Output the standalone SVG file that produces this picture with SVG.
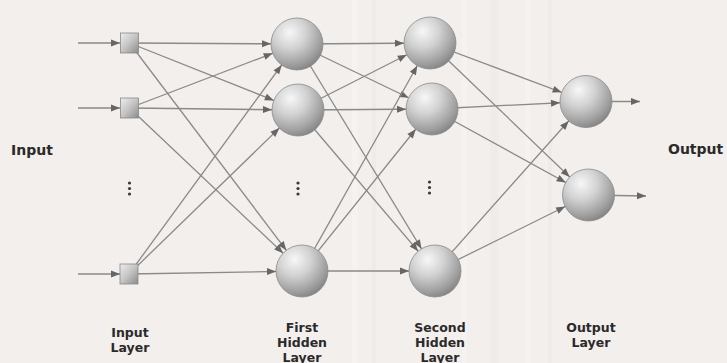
<svg xmlns="http://www.w3.org/2000/svg" width="727" height="363" viewBox="0 0 727 363">
  <defs>
    <radialGradient id="sphere" cx="0.36" cy="0.28" r="0.78">
      <stop offset="0" stop-color="#f7f7f7"/>
      <stop offset="0.4" stop-color="#d2d2d2"/>
      <stop offset="0.8" stop-color="#9e9e9e"/>
      <stop offset="1" stop-color="#7f7f7f"/>
    </radialGradient>
    <linearGradient id="cube" x1="0" y1="0" x2="1" y2="1">
      <stop offset="0" stop-color="#eeeeee"/>
      <stop offset="0.5" stop-color="#c4c4c4"/>
      <stop offset="1" stop-color="#8a8a8a"/>
    </linearGradient>
    <!-- arrowhead whose tip stops 26px short of the line end (circle rim) -->
    <marker id="toNode" markerUnits="userSpaceOnUse" markerWidth="40" markerHeight="8" refX="35" refY="3.5" orient="auto" overflow="visible">
      <path d="M0,0 L9,3.5 L0,7 z" fill="#666666"/>
    </marker>
    <!-- arrowhead with its tip at the line end -->
    <marker id="tip" markerUnits="userSpaceOnUse" markerWidth="10" markerHeight="8" refX="9" refY="3.5" orient="auto" overflow="visible">
      <path d="M0,0 L9,3.5 L0,7 z" fill="#666666"/>
    </marker>
  </defs>
  <style>
    .edge { stroke: #8a8a8a; stroke-width: 1.3; fill: none; marker-end: url(#toNode); }
    .feed { stroke: #8a8a8a; stroke-width: 1.3; fill: none; marker-end: url(#tip); }
    .neuron { fill: url(#sphere); stroke: #8c8c8c; stroke-width: 0.8; }
    .unit { fill: url(#cube); stroke: #888888; stroke-width: 0.8; }
    .dot { fill: #3a3a3a; }
    text { font-family: "DejaVu Sans", Verdana, sans-serif; font-weight: bold; fill: #2a2a2a; }
    .side { font-size: 14px; }
    .layer { font-size: 12.5px; text-anchor: middle; }
  </style>

  <!-- paper -->
  <rect width="727" height="363" fill="#f3efec"/>
  <g opacity="0.2">
    <rect x="352" y="0" width="6" height="363" fill="#ffffff"/>
    <rect x="372" y="0" width="4" height="363" fill="#e6e0dc"/>
    <rect x="462" y="0" width="5" height="363" fill="#ffffff"/>
    <rect x="490" y="0" width="8" height="363" fill="#e9e3df"/>
    <rect x="525" y="0" width="5" height="363" fill="#ffffff"/>
    <rect x="548" y="0" width="4" height="363" fill="#e6e0dc"/>
  </g>

  <g id="connectors">
    <!-- inputs into the input layer -->
    <line class="feed" x1="78" y1="43" x2="120" y2="43"/>
    <line class="feed" x1="78" y1="108" x2="120" y2="108"/>
    <line class="feed" x1="78" y1="274" x2="120" y2="274"/>
    <!-- input layer to first hidden layer -->
    <line class="edge" x1="129.5" y1="43" x2="297" y2="44"/>
    <line class="edge" x1="129.5" y1="43" x2="298" y2="110"/>
    <line class="edge" x1="129.5" y1="43" x2="302" y2="271"/>
    <line class="edge" x1="129.5" y1="108" x2="297" y2="44"/>
    <line class="edge" x1="129.5" y1="108" x2="298" y2="110"/>
    <line class="edge" x1="129.5" y1="108" x2="302" y2="271"/>
    <line class="edge" x1="129" y1="274" x2="297" y2="44"/>
    <line class="edge" x1="129" y1="274" x2="298" y2="110"/>
    <line class="edge" x1="129" y1="274" x2="302" y2="271"/>
    <!-- first hidden layer to second hidden layer -->
    <line class="edge" x1="297" y1="44" x2="430" y2="43"/>
    <line class="edge" x1="297" y1="44" x2="432" y2="109"/>
    <line class="edge" x1="297" y1="44" x2="435" y2="271"/>
    <line class="edge" x1="298" y1="110" x2="430" y2="43"/>
    <line class="edge" x1="298" y1="110" x2="432" y2="109"/>
    <line class="edge" x1="298" y1="110" x2="435" y2="271"/>
    <line class="edge" x1="302" y1="271" x2="430" y2="43"/>
    <line class="edge" x1="302" y1="271" x2="432" y2="109"/>
    <line class="edge" x1="302" y1="271" x2="435" y2="271"/>
    <!-- second hidden layer to output layer -->
    <line class="edge" x1="430" y1="43" x2="586" y2="101.5"/>
    <line class="edge" x1="430" y1="43" x2="588.5" y2="195"/>
    <line class="edge" x1="432" y1="109" x2="586" y2="101.5"/>
    <line class="edge" x1="432" y1="109" x2="588.5" y2="195"/>
    <line class="edge" x1="435" y1="271" x2="586" y2="101.5"/>
    <line class="edge" x1="435" y1="271" x2="588.5" y2="195"/>
    <!-- outputs -->
    <line class="feed" x1="586" y1="101.5" x2="640" y2="101.5"/>
    <line class="feed" x1="588.5" y1="195" x2="646" y2="196"/>
  </g>

  <!-- input layer -->
  <g id="in1"><rect class="unit" x="120.5" y="33" width="18" height="20"/></g>
  <g id="in2"><rect class="unit" x="120.5" y="98" width="18" height="20"/></g>
  <g id="in3"><rect class="unit" x="120" y="264" width="18" height="20"/></g>
  <g id="in-more">
    <circle class="dot" cx="129.5" cy="183" r="1.6"/>
    <circle class="dot" cx="129.5" cy="188.5" r="1.6"/>
    <circle class="dot" cx="129.5" cy="194" r="1.6"/>
  </g>

  <!-- first hidden layer -->
  <g id="h1a"><circle class="neuron" cx="297" cy="44" r="26"/></g>
  <g id="h1b"><circle class="neuron" cx="298" cy="110" r="26"/></g>
  <g id="h1c"><circle class="neuron" cx="302" cy="271" r="26"/></g>
  <g id="h1-more">
    <circle class="dot" cx="298" cy="183" r="1.6"/>
    <circle class="dot" cx="298" cy="188.5" r="1.6"/>
    <circle class="dot" cx="298" cy="194" r="1.6"/>
  </g>

  <!-- second hidden layer -->
  <g id="h2a"><circle class="neuron" cx="430" cy="43" r="26"/></g>
  <g id="h2b"><circle class="neuron" cx="432" cy="109" r="26"/></g>
  <g id="h2c"><circle class="neuron" cx="435" cy="271" r="26"/></g>
  <g id="h2-more">
    <circle class="dot" cx="429.5" cy="182" r="1.6"/>
    <circle class="dot" cx="429.5" cy="187.5" r="1.6"/>
    <circle class="dot" cx="429.5" cy="193" r="1.6"/>
  </g>

  <!-- output layer -->
  <g id="o1"><circle class="neuron" cx="586" cy="101.5" r="26"/></g>
  <g id="o2"><circle class="neuron" cx="588.5" cy="195" r="26"/></g>

  <!-- side labels -->
  <g id="label-input"><text class="side" x="11" y="155">Input</text></g>
  <g id="label-output"><text class="side" x="668" y="154">Output</text></g>

  <!-- layer captions -->
  <g id="caption-input">
    <text class="layer" x="130" y="336.5">Input</text>
    <text class="layer" x="130" y="351.5">Layer</text>
  </g>
  <g id="caption-h1">
    <text class="layer" x="302" y="331.5">First</text>
    <text class="layer" x="302" y="346.5">Hidden</text>
    <text class="layer" x="302" y="361.5">Layer</text>
  </g>
  <g id="caption-h2">
    <text class="layer" x="440" y="331.5">Second</text>
    <text class="layer" x="440" y="346.5">Hidden</text>
    <text class="layer" x="440" y="361.5">Layer</text>
  </g>
  <g id="caption-out">
    <text class="layer" x="591" y="331.5">Output</text>
    <text class="layer" x="591" y="346.5">Layer</text>
  </g>
</svg>
